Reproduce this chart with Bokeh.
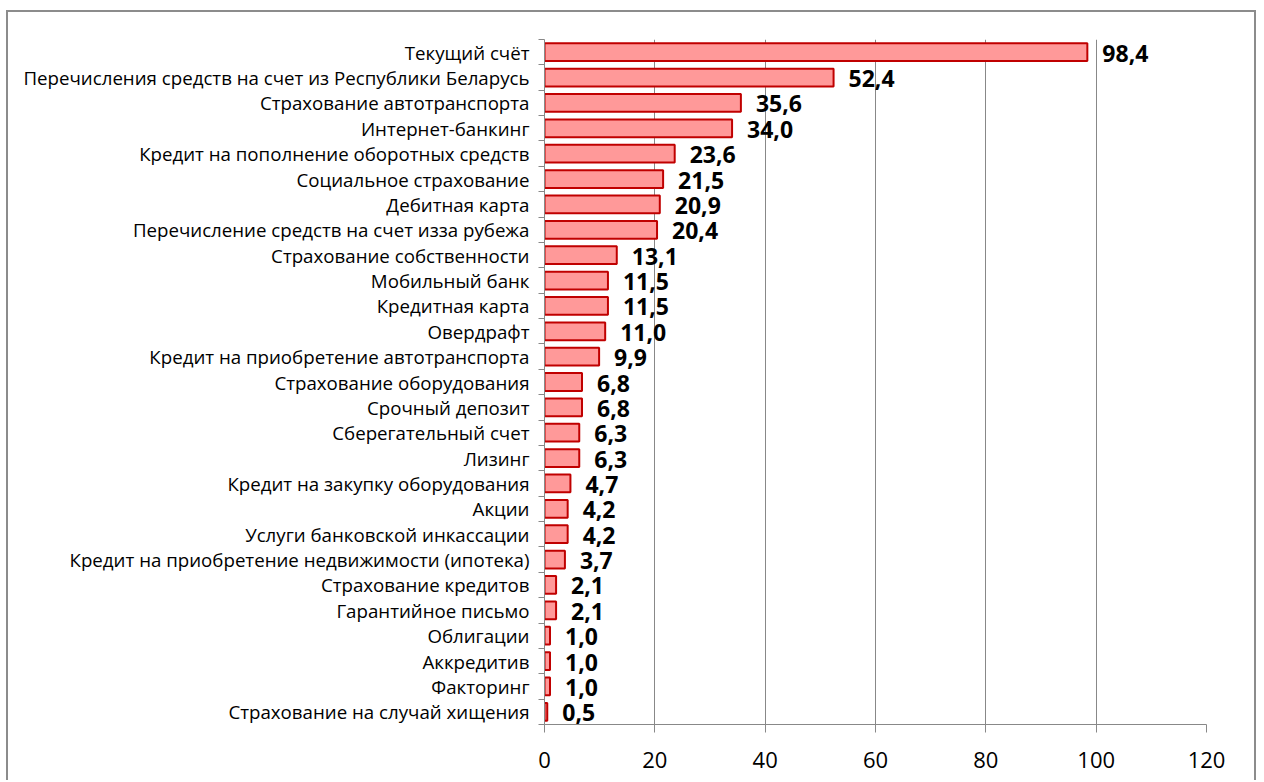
from bokeh.plotting import figure
from bokeh.models import ColumnDataSource, FixedTicker, LabelSet, Range1d
from bokeh.layouts import column
from bokeh.core.properties import value
from bokeh.embed import file_html
from bokeh.resources import INLINE

categories = [
    "Текущий счёт",
    "Перечисления средств на счет из Республики Беларусь",
    "Страхование автотранспорта",
    "Интернет-банкинг",
    "Кредит на пополнение оборотных средств",
    "Социальное страхование",
    "Дебитная карта",
    "Перечисление средств на счет изза рубежа",
    "Страхование собственности",
    "Мобильный банк",
    "Кредитная карта",
    "Овердрафт",
    "Кредит на приобретение автотранспорта",
    "Страхование оборудования",
    "Срочный депозит",
    "Сберегательный счет",
    "Лизинг",
    "Кредит на закупку оборудования",
    "Акции",
    "Услуги банковской инкассации",
    "Кредит на приобретение недвижимости (ипотека)",
    "Страхование кредитов",
    "Гарантийное письмо",
    "Облигации",
    "Аккредитив",
    "Факторинг",
    "Страхование на случай хищения",
]
values = [98.4, 52.4, 35.6, 34.0, 23.6, 21.5, 20.9, 20.4, 13.1, 11.5, 11.5, 11.0,
          9.9, 6.8, 6.8, 6.3, 6.3, 4.7, 4.2, 4.2, 3.7, 2.1, 2.1, 1.0, 1.0, 1.0, 0.5]
x_ticks = [0, 20, 40, 60, 80, 100, 120]

n = len(categories)
# category slots: first category at the top
ypos = [n - i - 0.5 for i in range(n)]
labels = [f"{v:.1f}".replace(".", ",") for v in values]
src = ColumnDataSource(dict(y=ypos, cat=categories, val=values, lab=labels))

p = figure(
    y_range=Range1d(0, n),
    x_range=Range1d(0, 120),
    frame_width=662, frame_height=685,
    min_border_left=536, min_border_right=48, min_border_top=27, min_border_bottom=56,
    output_backend="svg", toolbar_location=None,
)
p.outline_line_color = None
p.background_fill_color = "white"
p.border_fill_color = "white"

p.hbar(y="y", right="val", left=0, height=0.7, source=src,
       fill_color="#FF9999", line_color="#C00000", line_width=2)

p.add_layout(LabelSet(x="val", y="y", text="lab", source=src, x_offset=15, y_offset=-1,
                      text_baseline="middle", text_font=value("Open Sans"),
                      text_font_style="bold", text_font_size="23px", text_color="black"))

p.xaxis.ticker = FixedTicker(ticks=x_ticks)
p.xaxis.axis_line_color = "#888888"
p.xaxis.major_tick_line_color = "#888888"
p.xaxis.major_tick_out = 8
p.xaxis.major_tick_in = 0
p.xaxis.minor_tick_line_color = None
p.xaxis.major_label_text_font = "Open Sans"
p.xaxis.major_label_text_font_size = "22px"
p.xaxis.major_label_text_color = "black"
p.xaxis.major_label_standoff = 19

p.yaxis.ticker = FixedTicker(ticks=ypos, minor_ticks=list(range(n + 1)))
p.yaxis.major_label_overrides = {y: c for y, c in zip(ypos, categories)}
p.yaxis.axis_line_color = "#888888"
p.yaxis.major_tick_line_color = None
p.yaxis.major_tick_out = 0
p.yaxis.major_tick_in = 0
p.yaxis.minor_tick_line_color = "#888888"
p.yaxis.minor_tick_out = 6
p.yaxis.minor_tick_in = 0
p.yaxis.major_label_text_font = "Open Sans"
p.yaxis.major_label_text_font_size = "18.7px"
p.yaxis.major_label_text_color = "black"
p.yaxis.major_label_standoff = 9

p.xgrid.ticker = FixedTicker(ticks=x_ticks)
p.xgrid.grid_line_color = "#888888"
p.xgrid.grid_line_width = 1
p.ygrid.grid_line_color = None

layout = column(p, styles={"margin-left": "6px", "margin-top": "10px",
                           "border-left": "2px solid #8c8c8c", "border-top": "2px solid #8c8c8c",
                           "border-right": "2px solid #8c8c8c"})

open("out.html", "w").write(file_html(layout, INLINE))
